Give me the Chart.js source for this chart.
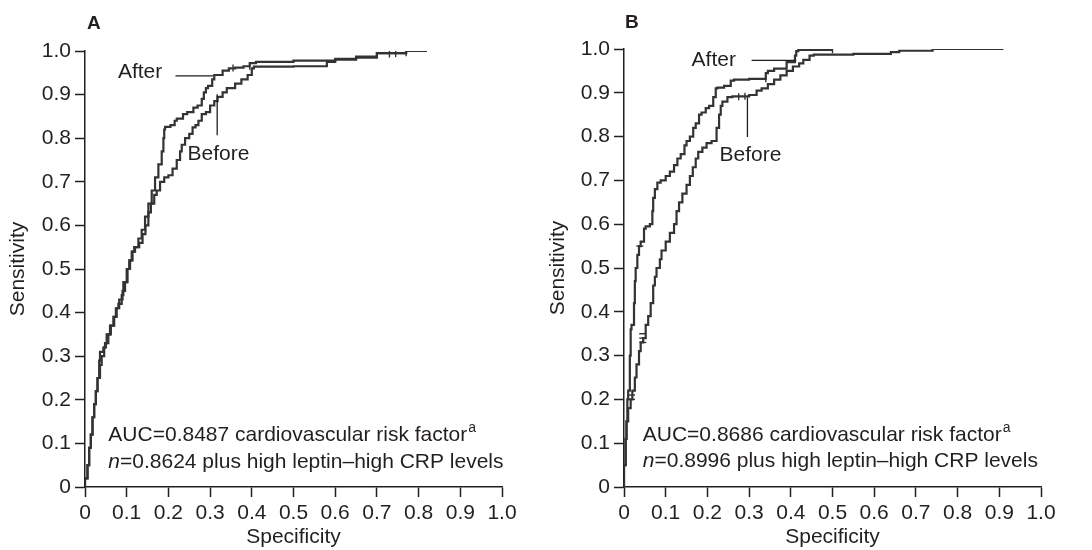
<!DOCTYPE html>
<html><head><meta charset="utf-8">
<script src="https://cdn.jsdelivr.net/npm/chart.js@4.4.1/dist/chart.umd.min.js"></script>
<style>
html,body{margin:0;padding:0;background:#fff;}
#wrap{position:relative;width:1092px;height:550px;overflow:hidden;background:#fff;}
canvas{position:absolute;top:0;}
.lbl{position:absolute;font:bold 19px "Liberation Sans",Arial,sans-serif;color:#231f20;line-height:20px;}
</style></head><body>
<div id="wrap">
<canvas id="cA" width="546" height="550" style="left:0"></canvas>
<canvas id="cB" width="546" height="550" style="left:546px"></canvas>
<div class="lbl" style="left:87px;top:13px">A</div>
<div class="lbl" style="left:625px;top:12px">B</div>
</div>
<script>
// ---- data (x = axis value, y = sensitivity) ----
const xTicks = [0,0.1,0.2,0.3,0.4,0.5,0.6,0.7,0.8,0.9,1.0];
const yTicks = [0,0.1,0.2,0.3,0.4,0.5,0.6,0.7,0.8,0.9,1.0];
const seriesNames = ['After','Before'];

const A_AFTER = [[0,0],[0.006,0.02],[0.01,0.05],[0.014,0.09],[0.018,0.12],[0.022,0.16],[0.026,0.19],[0.03,0.22],[0.034,0.25],[0.036,0.29],[0.044,0.31],[0.048,0.32],[0.052,0.33],[0.06,0.35],[0.068,0.37],[0.074,0.39],[0.08,0.41],[0.088,0.42],[0.092,0.44],[0.1,0.47],[0.106,0.5],[0.112,0.52],[0.118,0.54],[0.128,0.55],[0.136,0.57],[0.144,0.59],[0.152,0.62],[0.16,0.65],[0.168,0.68],[0.176,0.71],[0.184,0.74],[0.188,0.77],[0.19,0.8],[0.192,0.82],[0.205,0.826],[0.215,0.83],[0.22,0.84],[0.235,0.845],[0.245,0.855],[0.26,0.86],[0.27,0.87],[0.28,0.875],[0.285,0.89],[0.29,0.905],[0.295,0.915],[0.305,0.92],[0.31,0.935],[0.33,0.945],[0.345,0.955],[0.36,0.96],[0.38,0.962],[0.395,0.965],[0.41,0.972],[0.5,0.975],[0.6,0.978],[0.65,0.982],[0.7,0.987],[0.77,0.995],[0.82,1.0]];
const A_BEFORE = [[0,0],[0.006,0.02],[0.01,0.05],[0.014,0.09],[0.018,0.12],[0.022,0.16],[0.026,0.19],[0.03,0.22],[0.036,0.25],[0.04,0.28],[0.046,0.3],[0.05,0.32],[0.056,0.33],[0.062,0.35],[0.07,0.37],[0.076,0.39],[0.082,0.41],[0.09,0.43],[0.096,0.45],[0.102,0.47],[0.108,0.5],[0.114,0.52],[0.12,0.54],[0.13,0.55],[0.138,0.56],[0.145,0.58],[0.152,0.6],[0.158,0.63],[0.166,0.65],[0.172,0.67],[0.18,0.68],[0.19,0.7],[0.2,0.71],[0.21,0.715],[0.22,0.73],[0.228,0.75],[0.232,0.77],[0.24,0.785],[0.25,0.8],[0.258,0.81],[0.265,0.825],[0.272,0.83],[0.28,0.84],[0.29,0.855],[0.3,0.86],[0.31,0.875],[0.318,0.885],[0.33,0.895],[0.34,0.905],[0.36,0.915],[0.375,0.925],[0.39,0.935],[0.4,0.945],[0.405,0.96],[0.43,0.964],[0.5,0.964],[0.58,0.965],[0.6,0.975],[0.65,0.98],[0.7,0.985],[0.77,0.995],[0.82,1.0]];
const B_AFTER = [[0,0],[0.004,0.05],[0.006,0.11],[0.008,0.15],[0.01,0.2],[0.014,0.22],[0.016,0.3],[0.018,0.36],[0.024,0.37],[0.026,0.42],[0.028,0.47],[0.032,0.5],[0.036,0.53],[0.04,0.55],[0.048,0.56],[0.052,0.59],[0.062,0.595],[0.068,0.6],[0.07,0.63],[0.074,0.66],[0.08,0.68],[0.088,0.695],[0.1,0.7],[0.11,0.71],[0.12,0.72],[0.128,0.735],[0.136,0.75],[0.145,0.76],[0.15,0.78],[0.158,0.79],[0.166,0.8],[0.172,0.82],[0.18,0.83],[0.186,0.85],[0.196,0.855],[0.204,0.865],[0.214,0.87],[0.22,0.89],[0.224,0.91],[0.24,0.912],[0.256,0.916],[0.264,0.928],[0.3,0.93],[0.34,0.932],[0.345,0.945],[0.36,0.95],[0.39,0.955],[0.41,0.97],[0.413,0.985],[0.418,0.995],[0.5,0.998]];
const B_BEFORE = [[0,0],[0.004,0.05],[0.006,0.11],[0.01,0.15],[0.016,0.18],[0.02,0.2],[0.026,0.22],[0.03,0.25],[0.036,0.28],[0.04,0.31],[0.046,0.33],[0.052,0.34],[0.058,0.37],[0.064,0.39],[0.07,0.42],[0.074,0.46],[0.078,0.48],[0.086,0.5],[0.09,0.52],[0.1,0.54],[0.11,0.56],[0.12,0.58],[0.126,0.6],[0.132,0.63],[0.14,0.65],[0.15,0.67],[0.158,0.69],[0.165,0.71],[0.172,0.73],[0.178,0.75],[0.188,0.765],[0.198,0.775],[0.21,0.785],[0.222,0.79],[0.228,0.82],[0.232,0.85],[0.236,0.87],[0.248,0.88],[0.26,0.89],[0.3,0.892],[0.318,0.895],[0.33,0.905],[0.345,0.91],[0.36,0.92],[0.375,0.93],[0.39,0.94],[0.405,0.95],[0.42,0.96],[0.43,0.967],[0.445,0.975],[0.455,0.985],[0.55,0.987],[0.64,0.989],[0.66,0.993],[0.74,0.996],[0.91,1.0]];
// censoring tick marks
const A_CENSOR = [[0.73,0.993],[0.745,0.994],[0.77,0.996],[0.355,0.961],[0.395,0.965]];
const B_CENSOR_H = [[0.045,0.33],[0.045,0.34],[0.045,0.35],[0.018,0.2],[0.018,0.21],[0.038,0.55]];
const B_CENSOR_V = [[0.5,0.998],[0.275,0.891],[0.29,0.892],[0.34,0.932]];

const aucA = ['0.8487','0.8624'];
const aucB = ['0.8686','0.8996'];

// ---- rendering ----
const TXT = '#231f20';
const LINE = '#333333';
const FONT = '"Liberation Sans", Arial, Helvetica, sans-serif';
const FS = 21;
const pts = arr => arr.map(p => ({x:p[0], y:p[1]}));
const fmt = v => (Math.abs(v) < 1e-9 ? '0' : (Math.round(v*10)/10).toFixed(1));

function annotations(cfg){
  return {
    id: 'ann',
    afterDatasetsDraw(chart){
      const {ctx, scales:{x, y}} = chart;
      const X = v => x.getPixelForValue(v), Y = v => y.getPixelForValue(v);
      ctx.save();
      ctx.fillStyle = TXT; ctx.strokeStyle = TXT; ctx.lineWidth = 1.3;
      ctx.textBaseline = 'middle'; ctx.textAlign = 'left';
      ctx.font = FS + 'px ' + FONT;
      ctx.fillText(seriesNames[0], X(cfg.afterText[0]), Y(cfg.afterText[1]));
      ctx.fillText(seriesNames[1], X(cfg.beforeText[0]), Y(cfg.beforeText[1]));
      ctx.beginPath();
      ctx.moveTo(X(cfg.afterLine[0]), Y(cfg.afterLine[2]));
      ctx.lineTo(X(cfg.afterLine[1]), Y(cfg.afterLine[2]));
      ctx.moveTo(X(cfg.beforeLine[0]), Y(cfg.beforeLine[1]));
      ctx.lineTo(X(cfg.beforeLine[0]), Y(cfg.beforeLine[2]));
      ctx.stroke();
      // AUC text lines
      const px = X(cfg.auc[0]), py1 = Y(cfg.auc[1]), py2 = Y(cfg.auc[2]);
      const t1 = 'AUC=' + cfg.vals[0] + ' cardiovascular risk factor';
      ctx.fillText(t1, px, py1);
      const w1 = ctx.measureText(t1).width;
      ctx.font = '14px ' + FONT;
      ctx.fillText('a', px + w1 + 1, py1 - 7);
      ctx.font = 'italic ' + FS + 'px ' + FONT;
      ctx.fillText('n', px, py2);
      const wn = ctx.measureText('n').width;
      ctx.font = FS + 'px ' + FONT;
      ctx.fillText('=' + cfg.vals[1] + ' plus high leptin\u2013high CRP levels', px + wn, py2);
      ctx.restore();
    }
  };
}

function makeChart(id, after, before, censorH, censorV, pad, yWidth, yTitlePad, ann){
  const ds = [
    {data: pts(after), borderColor: LINE, borderWidth: 2.2, pointRadius: 0, stepped: 'after', fill: false},
    {data: pts(before), borderColor: LINE, borderWidth: 2.2, pointRadius: 0, stepped: 'after', fill: false},
    {data: pts(censorH), showLine: false, pointStyle: 'line', pointRadius: 3.5, pointRotation: 0, borderColor: LINE, borderWidth: 1.4, backgroundColor: LINE},
    {data: pts(censorV), showLine: false, pointStyle: 'line', pointRadius: 3.5, pointRotation: 90, borderColor: LINE, borderWidth: 1.4, backgroundColor: LINE}
  ];
  const tickFont = {family: FONT, size: FS};
  new Chart(document.getElementById(id), {
    type: 'line',
    data: {datasets: ds},
    options: {
      responsive: false, animation: false, devicePixelRatio: 1,
      layout: {padding: pad},
      plugins: {legend: {display: false}, tooltip: {enabled: false}},
      scales: {
        x: {
          type: 'linear', min: 0, max: 1,
          afterBuildTicks: s => { s.ticks = xTicks.map(v => ({value: v})); },
          ticks: {callback: fmt, font: tickFont, color: TXT, padding: 4, maxRotation: 0, autoSkip: false},
          grid: {drawOnChartArea: false, drawTicks: true, tickLength: 10, tickColor: TXT, tickWidth: 1.5},
          border: {display: true, color: TXT, width: 1.5},
          title: {display: true, text: 'Specificity', font: tickFont, color: TXT, padding: {top: 0, bottom: 0}},
          afterFit: s => { s.height = 63; }
        },
        y: {
          type: 'linear', min: 0, max: 1,
          afterBuildTicks: s => { s.ticks = yTicks.map(v => ({value: v})); },
          ticks: {callback: fmt, font: tickFont, color: TXT, padding: 4, autoSkip: false},
          grid: {drawOnChartArea: false, drawTicks: true, tickLength: 10, tickColor: TXT, tickWidth: 1.5},
          border: {display: true, color: TXT, width: 1.5},
          title: {display: true, text: 'Sensitivity', font: tickFont, color: TXT, padding: {top: yTitlePad, bottom: 0}},
          afterFit: s => { s.width = yWidth; }
        }
      }
    },
    plugins: [annotations(ann)]
  });
}

makeChart('cA', A_AFTER, A_BEFORE, [], A_CENSOR, {left: 0, right: 44, top: 51, bottom: 0}, 85, 6, {
  afterText: [0.079, 0.952], beforeText: [0.246, 0.764],
  afterLine: [0.217, 0.307, 0.943], beforeLine: [0.317, 0.901, 0.807],
  auc: [0.056, 0.119, 0.058], vals: aucA
});
makeChart('cB', B_AFTER, B_BEFORE, B_CENSOR_H, B_CENSOR_V, {left: 0, right: 51, top: 49, bottom: 0}, 78, 0, {
  afterText: [0.162, 0.975], beforeText: [0.229, 0.757],
  afterLine: [0.306, 0.413, 0.974], beforeLine: [0.296, 0.89, 0.799],
  auc: [0.045, 0.119, 0.058], vals: aucB
});
</script>
</body></html>
